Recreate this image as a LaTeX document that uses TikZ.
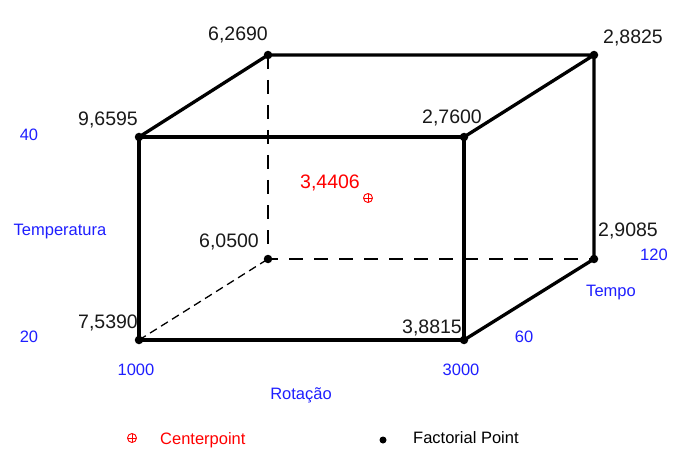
\documentclass[tikz,border=0pt]{standalone}
\usepackage{fontspec}
\setmainfont{Liberation Sans}
\usepackage{tikz}
\usetikzlibrary{positioning}
\definecolor{axisblue}{RGB}{30,30,255}
\definecolor{cpred}{RGB}{255,0,0}

\begin{document}
\begin{tikzpicture}[x=1pt, y=-1pt,
  fpoint/.style={circle, fill=black, inner sep=0pt, minimum size=8.5pt},
  cpoint/.style={circle, draw=cpred, line width=0.9pt, inner sep=0pt, minimum size=9pt,
    path picture={\draw[cpred, line width=0.9pt] (path picture bounding box.north) -- (path picture bounding box.south)
      (path picture bounding box.west) -- (path picture bounding box.east);}},
  edge/.style={line width=3.3pt, line join=round},
  hidden/.style={line width=2pt, dash pattern=on 14pt off 11pt},
  hiddendiag/.style={line width=1.3pt, dash pattern=on 8pt off 5pt},
  value/.style={inner sep=0pt, font=\fontsize{19.5}{22}\selectfont, text=black!90},
  axis/.style={inner sep=0pt, font=\fontsize{16.5}{19}\selectfont, text=axisblue}]

\useasboundingbox (0,0) rectangle (676,462);

% corners of the cube (front face, back face)
\node[fpoint] (ftl) at (139,137) {};
\node[fpoint] (ftr) at (464,137) {};
\node[fpoint] (fbl) at (139,340) {};
\node[fpoint] (fbr) at (464,340) {};
\node[fpoint] (btl) at (268,55) {};
\node[fpoint] (btr) at (594,55) {};
\node[fpoint] (bbl) at (268,259) {};
\node[fpoint] (bbr) at (594,259) {};

% hidden edges
\draw[hidden] (btl.center) -- (bbl.center) -- (bbr.center);
\draw[hiddendiag] (fbl.center) -- (bbl.center);

% visible edges
\draw[edge] (ftl.center) -- (ftr.center) -- (fbr.center) -- (fbl.center) -- cycle;
\draw[edge] (ftl.center) -- (btl.center) -- (btr.center) -- (ftr.center);
\draw[edge] (btr.center) -- (bbr.center) -- (fbr.center);

% centre point
\node[cpoint] (cp) at (368,198) {};
\node[value, text=cpred] (cpval) at (330,183) {3,4406};

% responses at the corners
\node[value] (v1) at (238,35) {6,2690};
\node[value] (v2) at (108,120) {9,6595};
\node[value] (v3) at (452,118) {2,7600};
\node[value] (v4) at (633,38) {2,8825};
\node[value] (v5) at (229,242) {6,0500};
\node[value] (v6) at (628,231) {2,9085};
\node[value] (v7) at (108,323) {7,5390};
\node[value] (v8) at (432,328) {3,8815};

% factor levels and names
\node[axis] (t40) at (29,135) {40};
\node[axis] (t20) at (29,337) {20};
\node[axis] (tname) at (60,232) {Temperatura};
\node[axis] (r1000) at (136,370) {1000};
\node[axis] (r3000) at (461,370) {3000};
\node[axis] (rname) at (301,395) {Rotação};
\node[axis] (p60) at (524,337) {60};
\node[axis] (p120) at (654,255) {120};
\node[axis] (pname) at (611,293) {Tempo};

% legend
\node[cpoint] (legcp) at (132,438) {};
\node[axis, text=cpred, anchor=west] (legcptext) at (160,440) {Centerpoint};
\node[circle, fill=black, inner sep=0pt, minimum size=7pt] (legfp) at (383,440) {};
\node[axis, text=black, anchor=west] (legfptext) at (413,438) {Factorial Point};

\end{tikzpicture}
\end{document}
